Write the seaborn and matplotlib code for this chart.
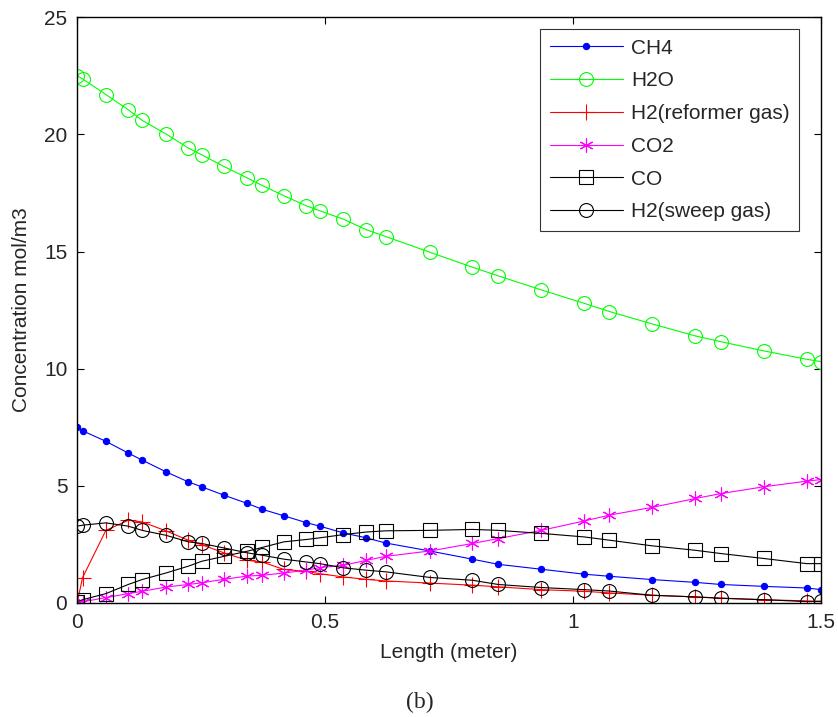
import numpy as np
import pandas as pd
import seaborn as sns
import matplotlib
matplotlib.use('Agg')
import matplotlib.pyplot as plt

# reactor length positions (solver steps)
length = [0, 0.011, 0.058, 0.103, 0.131, 0.179, 0.224, 0.251, 0.296, 0.343, 0.373,
          0.417, 0.462, 0.489, 0.537, 0.583, 0.622, 0.711, 0.797, 0.849, 0.936,
          1.022, 1.073, 1.159, 1.246, 1.298, 1.384, 1.471, 1.5]

ch4 = [7.5, 7.35, 6.9, 6.4, 6.1, 5.6, 5.17, 4.96, 4.6, 4.25, 4.0, 3.72, 3.43, 3.28,
       2.99, 2.78, 2.56, 2.22, 1.87, 1.65, 1.44, 1.23, 1.14, 1.0, 0.88, 0.79, 0.71,
       0.64, 0.57]
h2o = [22.5, 22.37, 21.7, 21.05, 20.6, 20.02, 19.42, 19.13, 18.63, 18.14, 17.82,
       17.38, 16.95, 16.74, 16.38, 15.93, 15.64, 14.97, 14.33, 13.96, 13.36, 12.79,
       12.44, 11.91, 11.4, 11.15, 10.76, 10.4, 10.3]
h2_ref = [0.0, 1.08, 3.1, 3.53, 3.46, 3.08, 2.68, 2.49, 2.14, 1.82, 1.75, 1.43, 1.35,
          1.25, 1.11, 1.01, 0.94, 0.85, 0.76, 0.69, 0.57, 0.5, 0.43, 0.33, 0.26, 0.21,
          0.14, 0.09, 0.07]
co2 = [0.0, 0.05, 0.23, 0.4, 0.5, 0.68, 0.79, 0.86, 1.01, 1.15, 1.18, 1.28, 1.4, 1.51,
       1.61, 1.82, 1.99, 2.22, 2.54, 2.75, 3.1, 3.5, 3.75, 4.08, 4.46, 4.67, 4.96, 5.2,
       5.27]
co = [0.05, 0.14, 0.4, 0.79, 1.0, 1.28, 1.57, 1.78, 1.99, 2.21, 2.37, 2.61, 2.71, 2.78,
      2.92, 3.03, 3.08, 3.1, 3.14, 3.1, 2.97, 2.82, 2.68, 2.44, 2.25, 2.11, 1.9, 1.68,
      1.68]
h2_sweep = [3.28, 3.32, 3.42, 3.28, 3.1, 2.89, 2.61, 2.54, 2.35, 2.14, 2.04, 1.87, 1.75,
            1.68, 1.5, 1.4, 1.33, 1.09, 0.97, 0.79, 0.66, 0.57, 0.51, 0.33, 0.26, 0.2,
            0.14, 0.06, 0.07]

sns.set_style('ticks')
plt.rcParams['font.family'] = ['Liberation Sans', 'DejaVu Sans']

fig = plt.figure(figsize=(8.38, 7.17), dpi=100)
ax = fig.add_axes([0.092, 0.159, 0.888, 0.817])

asterisk = (6, 2, 0)
series = [
    ('CH4', ch4, 'blue', 'o', 'blue', 4.5),
    ('H2O', h2o, 'lime', 'o', 'none', 10),
    ('H2(reformer gas)', h2_ref, 'red', '+', 'red', 11),
    ('CO2', co2, 'magenta', asterisk, 'magenta', 10),
    ('CO', co, 'black', 's', 'none', 10),
    ('H2(sweep gas)', h2_sweep, 'black', 'o', 'none', 10),
]

for name, vals, col, mk, mfc, ms in series:
    df = pd.DataFrame({'x': length, 'y': vals})
    sns.lineplot(data=df, x='x', y='y', ax=ax, color=col, marker=mk,
                 markerfacecolor=mfc, markeredgecolor=col, markersize=ms,
                 markeredgewidth=0.8, linewidth=0.8, label=name)

fs = 15
ax.set_xlim(0, 1.5)
ax.set_ylim(0, 25)
ax.set_xticks([0, 0.5, 1, 1.5])
ax.set_xticklabels(['0', '0.5', '1', '1.5'])
ax.set_yticks([0, 5, 10, 15, 20, 25])
ax.tick_params(direction='in', top=True, right=True, labelsize=fs, length=5,
               width=0.8, pad=7, color='black')
for sp in ax.spines.values():
    sp.set_linewidth(1.0)
    sp.set_color('black')

ax.set_xlabel('Length (meter)', fontsize=fs, labelpad=8)
ax.set_ylabel('Concentration mol/m3', fontsize=fs, labelpad=9)

leg = ax.legend(loc='upper right', bbox_to_anchor=(0.970, 0.9795), fontsize=fs,
                frameon=True, fancybox=False, edgecolor='black', borderaxespad=0,
                handlelength=3.5, handletextpad=0.4, labelspacing=0.66,
                borderpad=0.45)
leg.get_frame().set_linewidth(0.8)

fig.text(0.501, 0.006, '(b)', ha='center', va='bottom', fontsize=17,
         family=['Liberation Serif', 'DejaVu Serif'])

fig.savefig('out.png', dpi=100)
